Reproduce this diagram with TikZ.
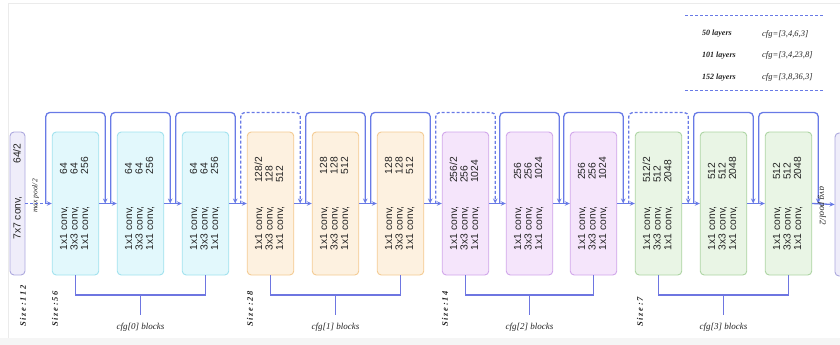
\documentclass[tikz,border=0pt]{standalone}
\usepackage{fontspec}
\usepackage{graphicx}
\setmainfont{Liberation Serif}
\setsansfont{Liberation Sans}
\newfontfamily\sizefont[LetterSpace=20]{Liberation Serif}
\usetikzlibrary{arrows.meta}
\definecolor{lnblue}{RGB}{104,122,230}
\definecolor{brkblue}{RGB}{110,118,225}
\definecolor{textc}{RGB}{35,35,35}
\definecolor{cyanfill}{RGB}{226,248,252}
\definecolor{cyanline}{RGB}{160,226,238}
\definecolor{orfill}{RGB}{253,241,224}
\definecolor{orline}{RGB}{244,202,145}
\definecolor{pufill}{RGB}{245,229,251}
\definecolor{puline}{RGB}{208,165,234}
\definecolor{grfill}{RGB}{233,245,229}
\definecolor{grline}{RGB}{172,212,162}
\definecolor{lvfill}{RGB}{239,237,250}
\definecolor{lvline}{RGB}{172,168,222}
\newcommand\blocktext[3]{\begin{tabular*}{93pt}{@{}l@{\extracolsep{\fill}}l@{}}1x1 conv, & #1\\3x3 conv, & #2\\1x1 conv, & #3\end{tabular*}}
\newcommand\skiploop[2]{%
  \coordinate (#1sa) at ([xshift=-6pt]#1.west);
  \coordinate (#1sb) at ([xshift=6pt]#1.east);
  \draw[#2] (#1sa) -- (#1sa |- looptop) -- (#1sb |- looptop) -- (#1sb);}
\begin{document}
\begin{tikzpicture}[x=1pt,y=-1pt,
  blk/.style={draw, line width=0.9pt, rounded corners=4pt, minimum width=46.5pt, minimum height=143pt, inner sep=0pt},
  cyanb/.style={blk, fill=cyanfill, draw=cyanline},
  orb/.style={blk, fill=orfill, draw=orline},
  pub/.style={blk, fill=pufill, draw=puline},
  grb/.style={blk, fill=grfill, draw=grline},
  lvb/.style={blk, fill=lvfill, draw=lvline, minimum width=15pt},
  txt/.style={rotate=90, font=\sffamily\fontsize{10.3}{10.6}\selectfont, text=textc, inner sep=0pt},
  arr/.style={draw=lnblue, line width=1.3pt, -{Stealth[length=5pt,width=4.5pt]}},
  skipsolid/.style={arr, rounded corners=4pt},
  skipdash/.style={arr, rounded corners=4pt, dash pattern=on 3pt off 2pt},
  brk/.style={draw=brkblue, line width=1.3pt},
  sizelab/.style={rotate=90, anchor=west, inner sep=0pt, font=\sizefont\itshape\bfseries\fontsize{8.5}{9}\selectfont, text=textc},
  cfglab/.style={font=\itshape\fontsize{9}{10}\selectfont, text=textc, inner sep=1pt},
  poollab/.style={font=\itshape\fontsize{7.5}{8}\selectfont, text=textc, inner sep=0pt},
  legl/.style={anchor=west, inner sep=0pt, font=\bfseries\itshape\fontsize{8}{9}\selectfont, text=textc},
  legr/.style={anchor=west, inner sep=0pt, font=\itshape\fontsize{8.5}{9}\selectfont, text=textc},
  legline/.style={draw=lnblue, line width=1pt, dash pattern=on 3pt off 2pt}]
\useasboundingbox (0,0) rectangle (840,345);
\clip (0,0) rectangle (840,345);
\fill[black!4] (0,338) rectangle (840,345);
\draw[black!8, line width=0.8pt] (8,338) -- (8,3) -- (840,3);
\coordinate (looptop) at (0,112.5);
\coordinate (bry) at (0,295);
% blocks
\node[lvb] (f0) at (17.5,203.5) {};
\node[txt] at (17.5,191.5) {\sffamily\makebox[96pt]{7x7 conv,\hfill 64/2}};
\node[cyanb] (b1) at (75.5,203.5) {};
\node[cyanb] (b2) at (140.5,203.5) {};
\node[cyanb] (b3) at (205.5,203.5) {};
\node[orb] (b4) at (270.5,203.5) {};
\node[orb] (b5) at (335.5,203.5) {};
\node[orb] (b6) at (400.5,203.5) {};
\node[pub] (b7) at (465.5,203.5) {};
\node[pub] (b8) at (529.5,203.5) {};
\node[pub] (b9) at (593.5,203.5) {};
\node[grb] (b10) at (658.5,203.5) {};
\node[grb] (b11) at (723.5,203.5) {};
\node[grb] (b12) at (788.5,203.5) {};
\node[lvb, minimum width=30pt] (f1) at (850,204.5) {};
\node[txt] at (b1.center) {\blocktext{64}{64}{256}};
\node[txt] at (b2.center) {\blocktext{64}{64}{256}};
\node[txt] at (b3.center) {\blocktext{64}{64}{256}};
\node[txt] at (b4.center) {\blocktext{128/2}{128}{512}};
\node[txt] at (b5.center) {\blocktext{128}{128}{512}};
\node[txt] at (b6.center) {\blocktext{128}{128}{512}};
\node[txt] at (b7.center) {\blocktext{256/2}{256}{1024}};
\node[txt] at (b8.center) {\blocktext{256}{256}{1024}};
\node[txt] at (b9.center) {\blocktext{256}{256}{1024}};
\node[txt] at (b10.center) {\blocktext{512/2}{512}{2048}};
\node[txt] at (b11.center) {\blocktext{512}{512}{2048}};
\node[txt] at (b12.center) {\blocktext{512}{512}{2048}};
% main line
\draw[arr, dash pattern=on 3pt off 2pt] (f0.east) -- (b1.west);
\draw[arr] (b1.east) -- (b2.west);
\draw[arr] (b2.east) -- (b3.west);
\draw[arr] (b3.east) -- (b4.west);
\draw[arr] (b4.east) -- (b5.west);
\draw[arr] (b5.east) -- (b6.west);
\draw[arr] (b6.east) -- (b7.west);
\draw[arr] (b7.east) -- (b8.west);
\draw[arr] (b8.east) -- (b9.west);
\draw[arr] (b9.east) -- (b10.west);
\draw[arr] (b10.east) -- (b11.west);
\draw[arr] (b11.east) -- (b12.west);
\draw[arr] (b12.east) -- (f1.west);
% skip loops
\skiploop{b1}{skipsolid}
\skiploop{b2}{skipsolid}
\skiploop{b3}{skipsolid}
\skiploop{b4}{skipdash}
\skiploop{b5}{skipsolid}
\skiploop{b6}{skipsolid}
\skiploop{b7}{skipdash}
\skiploop{b8}{skipsolid}
\skiploop{b9}{skipsolid}
\skiploop{b10}{skipdash}
\skiploop{b11}{skipsolid}
\skiploop{b12}{skipsolid}
% pool labels
\node[poollab, rotate=90] (mp) at (35.5,196) {max pool/2};
\node[poollab, rotate=-90, font=\itshape\fontsize{9}{10}\selectfont] (ap) at (822,206) {avg pool/2};
% size labels
\node[sizelab] (s112) at (23,327) {Size:112};
\node[sizelab] (s56) at (55,327) {Size:56};
\node[sizelab] (s28) at (250,327) {Size:28};
\node[sizelab] (s14) at (445,327) {Size:14};
\node[sizelab] (s7) at (640,327) {Size:7};
% brackets
\draw[brk] (b1.south) -- (b1.south |- bry) -- (b3.south |- bry) -- (b3.south);
\node[cfglab] (g0) at (140.5,327) {cfg[0] blocks};
\draw[brk] (g0.north |- bry) -- ([yshift=7pt]g0.north);
\draw[brk] (b4.south) -- (b4.south |- bry) -- (b6.south |- bry) -- (b6.south);
\node[cfglab] (g1) at (335.5,327) {cfg[1] blocks};
\draw[brk] (g1.north |- bry) -- ([yshift=7pt]g1.north);
\draw[brk] (b7.south) -- (b7.south |- bry) -- (b9.south |- bry) -- (b9.south);
\node[cfglab] (g2) at (529.5,327) {cfg[2] blocks};
\draw[brk] (g2.north |- bry) -- ([yshift=7pt]g2.north);
\draw[brk] (b10.south) -- (b10.south |- bry) -- (b12.south |- bry) -- (b12.south);
\node[cfglab] (g3) at (723.5,327) {cfg[3] blocks};
\draw[brk] (g3.north |- bry) -- ([yshift=7pt]g3.north);
% legend
\coordinate (la) at (685,16);
\coordinate (lb) at (823,16);
\coordinate (lc) at (685,90);
\coordinate (ld) at (823,90);
\draw[legline] (la) -- (lb);
\draw[legline] (lc) -- (ld);
\node[legl] (r1a) at (702,34) {50 layers};
\node[legr] (r1b) at (762,34) {cfg=[3,4,6,3]};
\node[legl] (r2a) at (702,55.5) {101 layers};
\node[legr] (r2b) at (762,55.5) {cfg=[3,4,23,8]};
\node[legl] (r3a) at (702,77.5) {152 layers};
\node[legr] (r3b) at (762,77.5) {cfg=[3,8,36,3]};
\end{tikzpicture}
\end{document}
